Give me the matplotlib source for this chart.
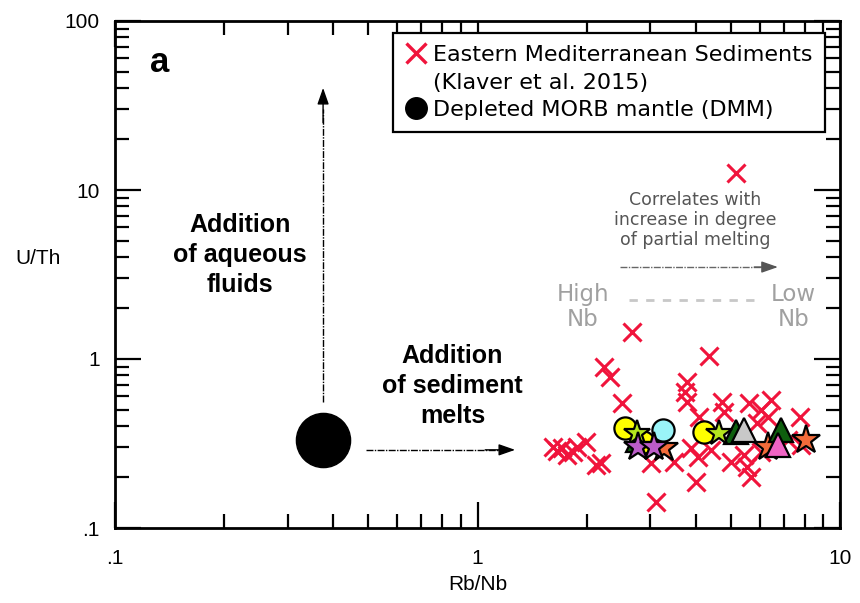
import matplotlib
matplotlib.use("Agg")
import matplotlib.pyplot as plt
from matplotlib.lines import Line2D
from matplotlib.ticker import FixedLocator, FixedFormatter, LogLocator, NullFormatter

# ---------------- data ----------------
sed_rbnb = [5.16, 2.67, 2.23, 2.32, 2.51, 4.36, 3.78, 3.73, 3.79, 4.09, 4.74, 4.79,
            5.62, 6.05, 6.45, 6.32, 7.77, 1.62, 1.71, 1.77, 1.88, 1.99, 2.12, 2.19,
            3.01, 3.49, 3.10, 4.00, 3.88, 4.05, 4.40, 5.00, 5.44, 5.55, 5.68, 6.05,
            7.80, 6.70, 2.85, 1.66, 1.83, 7.20, 5.90]
sed_uth = [12.6, 1.45, 0.90, 0.786, 0.547, 1.04, 0.734, 0.64, 0.56, 0.456, 0.56, 0.488,
           0.547, 0.499, 0.572, 0.456, 0.456, 0.303, 0.296, 0.270, 0.303, 0.324, 0.236, 0.241,
           0.241, 0.247, 0.143, 0.188, 0.296, 0.264, 0.290, 0.247, 0.270, 0.231, 0.201, 0.283,
           0.310, 0.303, 0.310, 0.285, 0.280, 0.330, 0.420]

dmm_rbnb = [0.375]
dmm_uth = [0.331]

yc_rbnb = [2.87, 2.56, 4.21]          # yellow circles
yc_uth = [0.324, 0.391, 0.370]
cc_rbnb = [3.24]                      # cyan circle
cc_uth = [0.380]
gs_rbnb = [2.76, 4.63]                # yellow-green stars
gs_uth = [0.365, 0.365]
dt_rbnb = [2.77, 5.16, 6.87]          # dark green triangles
dt_uth = [0.332, 0.370, 0.380]
gt_rbnb = [5.43]                      # grey triangle
gt_uth = [0.380]
os_rbnb = [3.26, 6.32, 8.05]          # orange stars
os_uth = [0.298, 0.302, 0.332]
ps_rbnb = [2.77, 3.06]                # purple stars
ps_uth = [0.303, 0.303]
pt_rbnb = [6.74]                      # pink triangle
pt_uth = [0.310]

legend_labels = ["Eastern Mediterranean Sediments", "(Klaver et al. 2015)",
                 "Depleted MORB mantle (DMM)"]

# ---------------- figure ----------------
fig = plt.figure(figsize=(8.6, 6.03), dpi=100)
ax = fig.add_axes([115/860, 1-528/603, 725/860, 507/603])
ax.set_xscale("log")
ax.set_yscale("log")
ax.set_xlim(0.1, 10)
ax.set_ylim(0.1, 100)

red = "#f0143c"
ax.plot(sed_rbnb, sed_uth, ls="none", marker="x", ms=13, mew=2.2, color=red, zorder=3)
ax.plot(dmm_rbnb, dmm_uth, ls="none", marker="o", ms=39, color="black", zorder=4)

mk = dict(ls="none", mec="black", mew=1.6, zorder=5)
ax.plot(os_rbnb, os_uth, marker="*", ms=21, mfc="#f26b3a", **mk)
ax.plot(dt_rbnb, dt_uth, marker="^", ms=17, mfc="#0e5f0e", **mk)
ax.plot(gt_rbnb, gt_uth, marker="^", ms=17, mfc="#c8c8c8", **mk)
ax.plot(yc_rbnb, yc_uth, marker="o", ms=16, mfc="#ffff00", **mk)
ax.plot(cc_rbnb, cc_uth, marker="o", ms=16, mfc="#9af4f8", **mk)
ax.plot(gs_rbnb, gs_uth, marker="*", ms=19, mfc="#b4e61e", **mk)
ax.plot(ps_rbnb, ps_uth, marker="*", ms=21, mfc="#bb5cc8", **mk)
ax.plot(pt_rbnb, pt_uth, marker="^", ms=17, mfc="#f064c4", **mk)

# ---------------- arrows ----------------
head = "-|>,head_length=1.0,head_width=0.35"
ax.plot([0.375, 0.375], [0.557, 30], color="black", lw=1.0, ls=(0, (5, 1, 1, 1)), zorder=2)
ax.annotate("", xy=(0.375, 40.2), xytext=(0.375, 25),
            arrowprops=dict(arrowstyle=head, color="black", lw=1.0, shrinkA=0, shrinkB=0))
ax.plot([0.494, 1.15], [0.29, 0.29], color="black", lw=1.0, ls=(0, (5, 1, 1, 1)), zorder=2)
ax.annotate("", xy=(1.27, 0.29), xytext=(1.05, 0.29),
            arrowprops=dict(arrowstyle=head, color="black", lw=1.0, shrinkA=0, shrinkB=0))

ax.plot([2.47, 6.2], [3.5, 3.5], color="#666666", lw=1.0, ls=(0, (5, 1, 1, 1)), zorder=2)
ax.annotate("", xy=(6.74, 3.5), xytext=(5.8, 3.5),
            arrowprops=dict(arrowstyle=head, color="#555555", lw=1.0, shrinkA=0, shrinkB=0))
ax.plot([2.61, 5.86], [2.236, 2.236], color="#c8c8c8", lw=2, ls=(0, (3, 3)), zorder=2)

# ---------------- texts ----------------
bold = dict(family="Liberation Sans", weight="bold", fontsize=18, ha="center",
            va="center", linespacing=1.32)
ax.text(0.221, 4.12, "Addition\nof aqueous\nfluids", **bold)
ax.text(0.853, 0.692, "Addition\nof sediment\nmelts", **bold)
ax.text((160-115)/725, (528-62)/507, "a", transform=ax.transAxes, family="Liberation Sans",
        weight="bold", fontsize=25, ha="center", va="center")
ax.text(3.98, 6.64, "Correlates with\nincrease in degree\nof partial melting",
        family="DejaVu Sans", fontsize=12.5, color="#555555", ha="center", va="center",
        linespacing=1.15)
ax.text(1.95, 2.03, "High\nNb", family="DejaVu Sans", fontsize=16.5, color="#a0a0a0",
        ha="center", va="center", linespacing=1.15)
ax.text(7.44, 2.03, "Low\nNb", family="DejaVu Sans", fontsize=16.5, color="#a0a0a0",
        ha="center", va="center", linespacing=1.15)

# ---------------- legend ----------------
handles = [Line2D([], [], ls="none", marker="x", ms=15, mew=2.4, color=red),
           Line2D([], [], ls="none"),
           Line2D([], [], ls="none", marker="o", ms=15.5, color="black")]
leg = ax.legend(handles, legend_labels, loc="upper right",
                bbox_to_anchor=(1 - 15/725, 1 - 12/507), borderaxespad=0,
                prop=dict(family="DejaVu Sans", size=16), fancybox=False,
                framealpha=1, edgecolor="black", handlelength=0.9, handletextpad=0.35,
                labelspacing=0.33, borderpad=0.55)
leg.get_frame().set_linewidth(1.6)
leg.set_zorder(10)

# ---------------- axes styling ----------------
for s in ax.spines.values():
    s.set_linewidth(2.0)
ax.xaxis.set_major_locator(FixedLocator([0.1, 1, 10]))
ax.xaxis.set_major_formatter(FixedFormatter([".1", "1", "10"]))
ax.yaxis.set_major_locator(FixedLocator([0.1, 1, 10, 100]))
ax.yaxis.set_major_formatter(FixedFormatter([".1", "1", "10", "100"]))
ax.xaxis.set_minor_locator(LogLocator(base=10, subs=range(2, 10)))
ax.yaxis.set_minor_locator(LogLocator(base=10, subs=range(2, 10)))
ax.xaxis.set_minor_formatter(NullFormatter())
ax.yaxis.set_minor_formatter(NullFormatter())
ax.tick_params(which="both", direction="in", top=True, right=True, width=1.6,
               labelsize=15, labelfontfamily="Liberation Sans")
ax.tick_params(axis="x", which="major", length=19, pad=15)
ax.tick_params(axis="y", which="major", length=19, pad=11)
ax.tick_params(which="minor", length=10)

ax.set_xlabel("Rb/Nb", family="Liberation Sans", fontsize=15, va="center")
ax.set_ylabel("U/Th", family="Liberation Sans", fontsize=15, rotation=0, ha="center", va="center")
ax.xaxis.set_label_coords(0.5, (528-585)/507)
ax.yaxis.set_label_coords((38-115)/725, (528-258)/507)

fig.savefig("out.png", dpi=100)
